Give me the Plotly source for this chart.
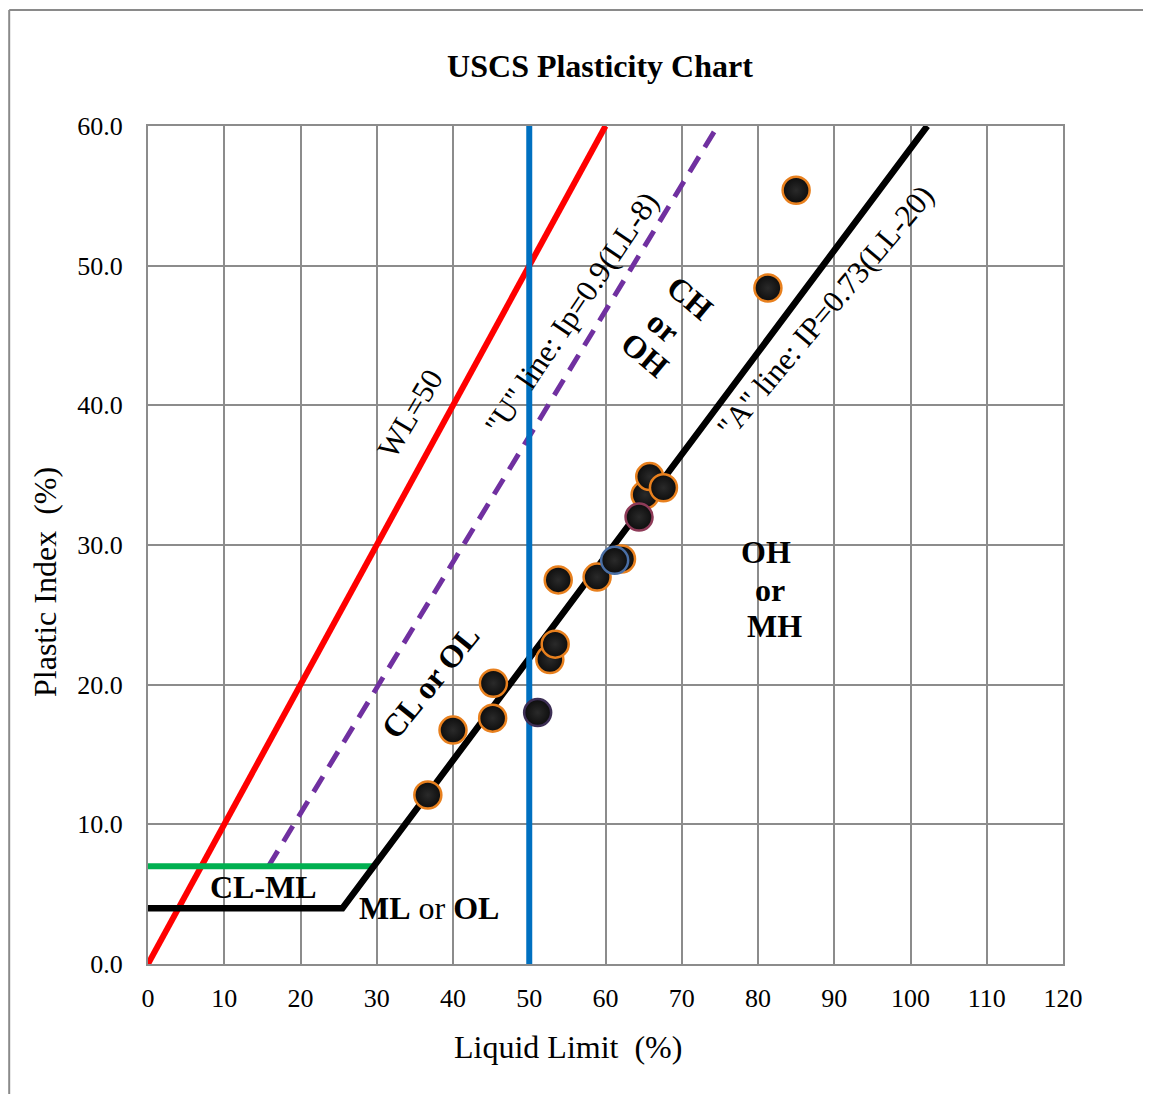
import plotly.graph_objects as go

# ---------------- data ----------------
LL = [36.7, 40.0, 45.2, 45.3, 52.7, 53.4, 53.8, 58.9, 62.1, 65.2, 65.8, 67.6, 81.3, 85.0]
PI = [12.1, 16.75, 17.6, 20.1, 21.8, 22.9, 27.5, 27.7, 29.0, 33.6, 34.9, 34.1, 48.4, 55.4]

LL_purple = [51.1]
PI_purple = [18.0]
LL_blue = [61.2]
PI_blue = [28.9]
LL_red = [64.4]
PI_red = [32.0]

WL_X = [0, 60]
WL_Y = [0, 60]
U_X = [15.8, 74.7]
U_Y = [7, 60]
A_X = [0, 25.5, 102.2]
A_Y = [4, 4, 60]
CLML_X = [0, 29.6]
CLML_Y = [7, 7]
LL50_X = [50, 50]
LL50_Y = [0, 60]

X_TICKS = list(range(0, 121, 10))
Y_TICKS = list(range(0, 61, 10))

FONT = "Liberation Serif"

# page body has an 8px margin; the figure is sized/offset to compensate
OFF = 8
W, H = 1151 - OFF, 1094 - OFF
L, T = 148 - OFF, 126 - OFF
PW, PH = 915, 838
R, B = W - L - PW, H - T - PH

fig = go.Figure()

fig.add_trace(go.Scatter(x=WL_X, y=WL_Y, mode="lines", line=dict(color="#FF0000", width=6), hoverinfo="skip"))
fig.add_trace(go.Scatter(x=U_X, y=U_Y, mode="lines", line=dict(color="#7030A0", width=5, dash="18px,11px"), hoverinfo="skip"))
fig.add_trace(go.Scatter(x=CLML_X, y=CLML_Y, mode="lines", line=dict(color="#00B050", width=6), hoverinfo="skip"))
fig.add_trace(go.Scatter(x=A_X, y=A_Y, mode="lines", line=dict(color="#000000", width=6.5), hoverinfo="skip"))
fig.add_trace(go.Scatter(x=LL50_X, y=LL50_Y, mode="lines", line=dict(color="#0070C0", width=6), hoverinfo="skip"))

def pts(x, y, edge):
    fig.add_trace(go.Scatter(
        x=x, y=y, mode="markers",
        marker=dict(size=27, color="#0d0d0d", line=dict(color=edge, width=2.5),
                    gradient=dict(type="radial", color="#2a2a2a")),
        hoverinfo="x+y"))

pts(LL, PI, "#E8801E")
pts(LL_purple, PI_purple, "#3D2F55")
pts(LL_blue, PI_blue, "#4A6FA5")
pts(LL_red, PI_red, "#8E3B58")

def ann(text, x, y, size, angle=0, align="center"):
    fig.add_annotation(x=x, y=y, xref="x", yref="y", text=text, showarrow=False,
                       textangle=angle, align=align, xanchor="center", yanchor="middle",
                       font=dict(family=FONT, size=size, color="black"))

ann("WL=50", 34.4, 39.4, 31, -59)
ann('"U" line: Ip=0.9(LL-8)', 55.5, 46.6, 31, -56)
ann('"A" line: IP=0.73(LL-20)', 88.8, 46.7, 31, -50)
# CH / or / OH block (rotated)
ann("<b>CH</b>", 71.1, 47.7, 32, 40)
ann("<b>or</b>", 67.6, 45.6, 32, 40)
ann("<b>OH</b>", 65.2, 43.6, 32, 40)
ann("<b>CL or OL</b>", 37.0, 20.2, 32, -51)
# OH / or / MH block
ann("<b>OH</b>", 81.0, 29.5, 32, 0)
ann("<b>or</b>", 81.6, 26.8, 32, 0)
ann("<b>MH</b>", 82.2, 24.2, 32, 0)
ann("<b>CL-ML</b>", 15.1, 5.5, 32, 0)
ann("<b>ML</b> or <b>OL</b>", 36.8, 4.0, 32, 0)

# axis titles as annotations (positions relative to the plot area)
fig.add_annotation(x=(568 - 148) / PW, y=(964 - 1047) / PH, xref="paper", yref="paper",
                   xanchor="center", yanchor="middle",
                   text="Liquid Limit\u00a0\u00a0(%)", showarrow=False,
                   font=dict(family=FONT, size=32, color="black"))
fig.add_annotation(x=(45 - 148) / PW, y=(964 - 582) / PH, xref="paper", yref="paper",
                   xanchor="center", yanchor="middle",
                   text="Plastic Index\u00a0\u00a0(%)", showarrow=False, textangle=-90,
                   font=dict(family=FONT, size=32, color="black"))

# outer frame (left and top edges visible)
fx = (1.2 - L) / PW
fy = (PH + T - 2) / PH
fig.add_shape(type="line", xref="paper", yref="paper", x0=fx, y0=-0.3, x1=fx, y1=fy,
              line=dict(color="#8a8a8a", width=2))
fig.add_shape(type="line", xref="paper", yref="paper", x0=fx, y0=fy, x1=1.2, y1=fy,
              line=dict(color="#8a8a8a", width=2))

grid = "#8c8c8c"
fig.update_layout(
    width=W, height=H,
    margin=dict(l=L, r=R, t=T, b=B),
    paper_bgcolor="white", plot_bgcolor="white",
    showlegend=False,
    title=dict(text="<b>USCS Plasticity Chart</b>", x=(600 - 148) / PW, xref="paper",
               xanchor="center", y=1 - (66 - OFF) / H, yanchor="middle",
               font=dict(family=FONT, size=32, color="black")),
    xaxis=dict(range=[0, 120], tickvals=X_TICKS, ticktext=[str(v) for v in X_TICKS],
               showgrid=True, gridcolor=grid, gridwidth=2, zeroline=False,
               showline=True, linecolor=grid, linewidth=2, mirror=True,
               ticks="", ticklabelstandoff=10,
               tickfont=dict(family=FONT, size=26, color="black")),
    yaxis=dict(range=[0, 60], tickvals=Y_TICKS, ticktext=[f"{v:.1f}" for v in Y_TICKS],
               showgrid=True, gridcolor=grid, gridwidth=2, zeroline=False,
               showline=True, linecolor=grid, linewidth=2, mirror=True,
               ticks="", ticklabelstandoff=18,
               tickfont=dict(family=FONT, size=26, color="black")),
)

fig.write_html("out.html")
